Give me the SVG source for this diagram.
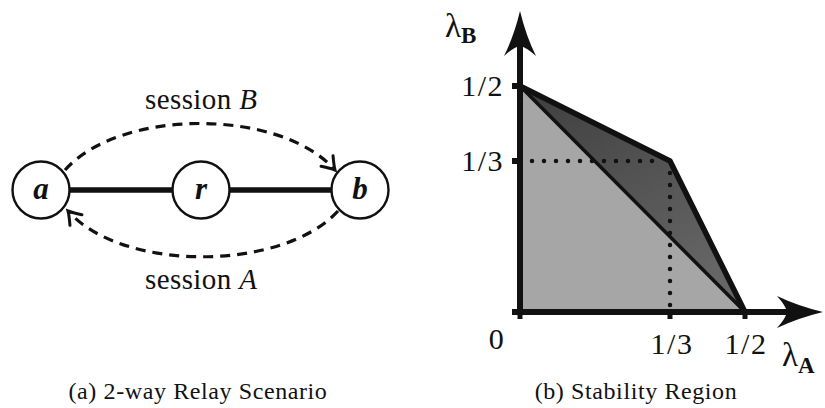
<svg xmlns="http://www.w3.org/2000/svg" width="825" height="408" viewBox="0 0 825 408" font-family="Liberation Serif">
<style>
text{fill:#111}
.node circle{fill:#fff;stroke:#111;stroke-width:2.4}
.node text{font-weight:bold;font-style:italic;font-size:31px;text-anchor:middle}
.link{stroke:#111;stroke-width:5.5;fill:none}
.sess{stroke:#111;stroke-width:3.2;fill:none;stroke-dasharray:10 7;marker-end:url(#barb)}
.lbl{font-size:29px;letter-spacing:0.4px}
.tick{font-size:30px;letter-spacing:1.5px}
.cap{font-size:24px;letter-spacing:0.6px;text-anchor:middle}
.lam{font-size:33px}
.sub{font-size:23px;font-weight:bold}
.axis{stroke:#111;stroke-width:6;fill:none}
.edge{stroke:#111;stroke-width:5.5;fill:none;stroke-linejoin:round}
.dot{stroke:#111;stroke-width:4.5;stroke-linecap:round;stroke-dasharray:0 12;fill:none}
</style>
<defs>
<marker id="barb" markerUnits="userSpaceOnUse" markerWidth="24" markerHeight="24" viewBox="-14 -12 18 24" refX="0" refY="0" orient="auto">
<path d="M-12,-8 Q-4,-2 0,0 Q-4,2 -12,8" fill="none" stroke="#111" stroke-width="3" stroke-linecap="round"/>
</marker>
<linearGradient id="dark" x1="0" y1="0" x2="0.6" y2="1">
<stop offset="0" stop-color="#3e3e3e"/>
<stop offset="1" stop-color="#666"/>
</linearGradient>
</defs>

<!-- (a) relay scenario -->
<g id="connectors">
<line class="link" x1="69" y1="190" x2="173" y2="190"/>
<line class="link" x1="229" y1="190" x2="332" y2="190"/>
<path class="sess" d="M65,170 C120,108 280,108 335,170"/>
<path class="sess" d="M338,211 C282,272 122,272 68,211"/>
</g>
<g id="node-a" class="node"><circle cx="41" cy="190" r="28.5"/><text x="41" y="199">a</text></g>
<g id="node-r" class="node"><circle cx="201" cy="190" r="28.5"/><text x="201" y="199">r</text></g>
<g id="node-b" class="node"><circle cx="360" cy="190" r="28.5"/><text x="360" y="199">b</text></g>
<text class="lbl" x="145" y="109">session <tspan font-style="italic">B</tspan></text>
<text class="lbl" x="145" y="289">session <tspan font-style="italic">A</tspan></text>
<text class="cap" x="198" y="399">(a) 2-way Relay Scenario</text>

<!-- (b) stability region -->
<polygon points="520,86 670,161 745,312 520,312" fill="#a6a6a6"/>
<polygon points="520,86 670,161 745,312" fill="url(#dark)"/>
<line x1="520" y1="86" x2="745" y2="312" stroke="#111" stroke-width="3.5"/>
<path class="dot" d="M532,161 H664 M670,173 V306"/>
<polyline class="edge" points="520,86 670,161 745,312"/>
<path class="axis" d="M520,315 V45 M512,312 H790"/>
<path d="M512,86 H520 M512,161 H520" stroke="#111" stroke-width="6"/>
<path d="M520,312 V319 M670,312 V319 M745,312 V319" stroke="#111" stroke-width="5"/>
<path d="M520,11 Q526,36 536,56 Q526,47 520,46 Q514,47 504,56 Q514,36 520,11 Z" fill="#111"/>
<path d="M823,312 Q798,318 777,328 Q786,318 787,312 Q786,306 777,296 Q798,306 823,312 Z" fill="#111"/>
<text class="tick" x="504" y="96" text-anchor="end">1/2</text>
<text class="tick" x="504" y="171" text-anchor="end">1/3</text>
<text class="tick" x="497" y="349" text-anchor="middle">0</text>
<text class="tick" x="672" y="354" text-anchor="middle">1/3</text>
<text class="tick" x="746" y="354" text-anchor="middle">1/2</text>
<text class="lam" x="445" y="37">λ<tspan class="sub" dy="6">B</tspan></text>
<text class="lam" x="782" y="366">λ<tspan class="sub" dy="7">A</tspan></text>
<text class="cap" x="636" y="399">(b) Stability Region</text>
</svg>
